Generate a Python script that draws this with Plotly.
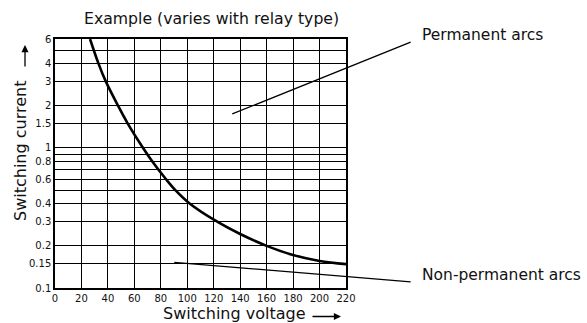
import plotly.graph_objects as go
import numpy as np

# Limit curve: switching voltage (V) vs switching current (A)
voltage = [26.5, 32.9, 38.3, 47.7, 54.9, 66.6, 73.6, 83.8, 91.0, 102, 122, 140, 160, 180, 200, 220]
current = [6, 4, 3, 2, 1.5, 1, 0.8, 0.6, 0.5, 0.4, 0.3, 0.243, 0.2, 0.172, 0.156, 0.148]

# Grid lines on the current axis and which of them carry a label
y_grid = [0.1, 0.15, 0.2, 0.3, 0.4, 0.5, 0.6, 0.7, 0.8, 0.9, 1, 1.5, 2, 3, 4, 5, 6]
y_labels = ["0.1", "0.15", "0.2", "0.3", "0.4", "", "0.6", "", "0.8", "", "1", "1.5", "2", "3", "4", "", "6"]
x_ticks = list(range(0, 221, 20))

# Leader lines: (point in region, end near label) in data units
perm_leader = [(134, 1.75), (270, 5.75)]
nonperm_leader = [(90.2, 0.1526), (270, 0.1104)]

FONT = "DejaVu Sans"
INK = "#111111"

fig = go.Figure()
fig.add_trace(go.Scatter(
    x=voltage, y=current, mode="lines",
    line=dict(color="black", width=2.6, shape="spline", smoothing=1.0),
    showlegend=False, hoverinfo="skip",
))

annotations = []
for (tip, tail) in (perm_leader, nonperm_leader):
    annotations.append(dict(
        x=tip[0], y=np.log10(tip[1]), xref="x", yref="y",
        ax=tail[0], ay=np.log10(tail[1]), axref="x", ayref="y",
        text="", showarrow=True, arrowhead=0, arrowwidth=1.3, arrowcolor="black",
        standoff=0, startstandoff=0,
    ))

# label texts (paper coordinates of the plot area)
def px(xp, yp):
    return (xp - 55) / 291, (288 - yp) / 249

for txt, (xp, yp) in (("Permanent arcs", (420, 35)), ("Non-permanent arcs", (420, 275))):
    x0, y0 = px(xp, yp)
    annotations.append(dict(x=x0, y=y0, xref="paper", yref="paper", text=txt,
                            showarrow=False, xanchor="left", yanchor="middle",
                            font=dict(family=FONT, size=15.5, color=INK)))

tx, ty = px(211, 18)
annotations.append(dict(x=tx, y=ty, xref="paper", yref="paper",
                        text="Example (varies with relay type)", showarrow=False,
                        xanchor="center", yanchor="middle",
                        font=dict(family=FONT, size=15.7, color=INK)))

lx, ly = px(234, 313)
annotations.append(dict(x=lx, y=ly, xref="paper", yref="paper",
                        text="Switching voltage", showarrow=False,
                        xanchor="center", yanchor="middle",
                        font=dict(family=FONT, size=16, color=INK)))

vx, vy = px(20, 151)
annotations.append(dict(x=vx, y=vy, xref="paper", yref="paper",
                        text="Switching current", showarrow=False, textangle=-90,
                        xanchor="center", yanchor="middle",
                        font=dict(family=FONT, size=16, color=INK)))

# axis direction arrows
hx, hy = px(341, 316.5)
annotations.append(dict(x=hx, y=hy, xref="paper", yref="paper", text="",
                        showarrow=True, arrowhead=2, arrowsize=1.1, arrowwidth=1.3,
                        arrowcolor="black", ax=-30, ay=0, standoff=0))
ux, uy = px(25, 45)
annotations.append(dict(x=ux, y=uy, xref="paper", yref="paper", text="",
                        showarrow=True, arrowhead=2, arrowsize=1.1, arrowwidth=1.3,
                        arrowcolor="black", ax=0, ay=23, standoff=0))

fig.update_layout(
    width=587, height=323,
    margin=dict(l=55, r=241, t=39, b=35),
    paper_bgcolor="white", plot_bgcolor="white",
    annotations=annotations,
    showlegend=False,
    xaxis=dict(
        range=[0, 220], tickvals=x_ticks, ticktext=[str(v) for v in x_ticks],
        showgrid=True, gridcolor="black", gridwidth=1.2,
        showline=True, linecolor="black", linewidth=1.5, mirror=True,
        zeroline=False, ticks="", tickfont=dict(family=FONT, size=10, color=INK),
        fixedrange=True,
    ),
    yaxis=dict(
        type="log", range=[np.log10(0.1), np.log10(6)],
        tickvals=y_grid, ticktext=y_labels,
        showgrid=True, gridcolor="black", gridwidth=1.2,
        showline=True, linecolor="black", linewidth=1.5, mirror=True,
        zeroline=False, ticks="", tickfont=dict(family=FONT, size=10, color=INK),
        fixedrange=True,
    ),
)

fig.write_html("out.html")
